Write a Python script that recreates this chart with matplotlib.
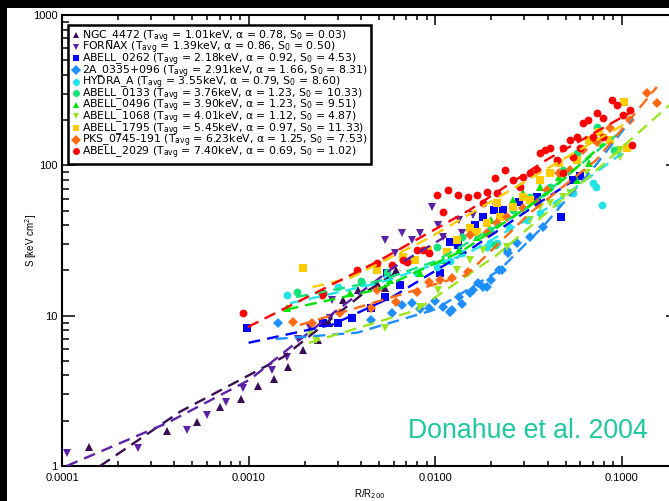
import matplotlib.pyplot as plt
from matplotlib.patches import Rectangle
from matplotlib.lines import Line2D
from matplotlib.ticker import FixedLocator, FixedFormatter, NullFormatter

plt.rcParams['font.family'] = ['Liberation Sans', 'DejaVu Sans']
plt.rcParams['mathtext.fontset'] = 'dejavusans'

# cluster summary (legend)
names = ['NGC_4472', 'FORNAX', 'ABELL_0262', '2A_0335+096', 'HYDRA_A', 'ABELL_0133',
         'ABELL_0496', 'ABELL_1068', 'ABELL_1795', 'PKS_0745-191', 'ABELL_2029']
t_avg = [1.01, 1.39, 2.18, 2.91, 3.55, 3.76, 3.90, 4.01, 5.45, 6.23, 7.40]
alpha = [0.78, 0.86, 0.92, 1.66, 0.79, 1.23, 1.23, 1.12, 0.97, 1.25, 0.69]
s_zero = [0.03, 0.50, 4.53, 8.31, 8.60, 10.33, 9.51, 4.87, 11.33, 7.53, 1.02]
markers = ['^', 'v', 's', 'D', 'o', 'o', '^', 'v', 's', 'D', 'o']
colors = ['#3b0d57', '#5b22a8', '#0000ff', '#1e8fff', '#22e3e8', '#14e27a',
          '#00e600', '#9be61e', '#ffcc00', '#ff6a14', '#ff0000']

# entropy profiles, r/r200 and S [keV cm^2]
ngc4472_r = [1.40e-4, 3.65e-4, 5.28e-4, 7.0e-4, 9.1e-4, 1.12e-3, 1.37e-3, 1.63e-3,
             1.96e-3, 2.35e-3, 2.7e-3, 3.2e-3, 3.85e-3, 4.9e-3, 5.37e-3, 6.2e-3]
ngc4472_s = [1.34, 1.71, 1.96, 2.47, 2.79, 3.41, 3.79, 4.56,
             5.91, 6.9, 9.0, 12.7, 14.8, 16.5, 15.3, 20.1]

fornax_r = [1.06e-4, 2.55e-4, 4.67e-4, 5.98e-4, 7.6e-4, 9.3e-4, 1.33e-3, 1.6e-3,
            1.84e-3, 2.13e-3, 2.73e-3, 2.8e-3, 5.37e-3, 6.62e-3, 7.5e-3, 8.3e-3,
            9.6e-3, 1.03e-2, 1.34e-2, 1.59e-2, 1.8e-2, 2.12e-2, 1.10e-2, 1.4e-2, 6.1e-3]
fornax_s = [1.22, 1.32, 1.74, 2.18, 2.66, 3.3, 4.35, 5.3,
            7.0, 8.3, 9.7, 12.7, 31.8, 35.5, 31.8, 35.5,
            52.8, 40, 43.5, 46.7, 45, 52.8, 33.4, 35.5, 26.1]

a0262_r = [9.8e-4, 2.5e-3, 3.0e-3, 3.58e-3, 4.5e-3, 5.4e-3, 5.5e-3, 6.5e-3, 1.06e-2,
           1.2e-2, 1.32e-2, 1.63e-2, 1.8e-2, 2.07e-2, 2.3e-2, 2.8e-2, 3.5e-2,
           4.75e-2, 5.45e-2, 6.0e-2]
a0262_s = [8.3, 8.94, 8.9, 9.65, 11.2, 13.3, 19.2, 16.0, 19.2,
           30.9, 29.5, 40, 45, 50.4, 50.4, 57, 61.7,
           45.2, 80.1, 85]

a2a0335_r = [1.43e-3, 4.5e-3, 5.9e-3, 6.6e-3, 7.5e-3, 8.3e-3, 9.3e-3, 1.0e-2, 1.10e-2,
             1.2e-2, 1.23e-2, 1.34e-2, 1.4e-2, 1.53e-2, 1.59e-2, 1.7e-2, 1.8e-2,
             1.89e-2, 2.0e-2, 2.2e-2, 2.27e-2, 2.41e-2, 2.44e-2, 2.75e-2, 3.21e-2, 3.76e-2]
a2a0335_s = [8.94, 9.3, 10.4, 11.8, 12.1, 11.0, 11.3, 12.5, 11.4,
             10.6, 10.9, 13.3, 12.0, 14.2, 14.8, 16.5, 15.5,
             15.5, 17.3, 20.1, 20.1, 27.4, 26.1, 30.5, 33.4, 38.9]

hydra_r = [1.6e-3, 3.0e-3, 4.05e-3, 5.5e-3, 7.96e-3, 1.02e-2, 1.2e-2, 1.4e-2, 1.89e-2,
           1.96e-2, 2.14e-2, 2.5e-2, 3.1e-2, 3.63e-2, 4.48e-2, 5.46e-2, 6.98e-2,
           7.3e-2, 7.8e-2, 9.4e-2]
hydra_s = [13.7, 15.5, 16.5, 18.1, 19.2, 21.1, 23, 26.1, 28.7,
           30.5, 30.5, 38.9, 43.5, 48.2, 56.2, 65.5, 76.4,
           71.8, 54.5, 127]

a0133_r = [1.82e-3, 4.0e-3, 5.5e-3, 7.3e-3, 1.02e-2, 1.4e-2, 1.96e-2, 2.09e-2, 2.6e-2,
           3.21e-2, 4.1e-2, 4.82e-2, 5.73e-2, 7.33e-2, 9.1e-2]
a0133_s = [14.4, 17, 19.5, 23.5, 28.7, 33.4, 37.2, 29.5, 50.4,
           61.6, 71.8, 93.2, 121, 180, 127]

a0496_r = [1.6e-3, 3.49e-3, 4.87e-3, 5.7e-3, 8.3e-3, 1.10e-2, 1.34e-2, 1.67e-2,
           2.0e-2, 2.6e-2, 2.94e-2, 3.63e-2, 4.6e-2, 5.73e-2, 6.7e-2]
a0496_s = [11.2, 14.2, 15.5, 17.3, 19.2, 23.5, 27.4, 33.4,
           43.5, 58.9, 65.5, 71.8, 83.7, 80, 104]

a1068_r = [2.13e-3, 2.3e-3, 5.37e-3, 8.3e-3, 1.03e-2, 1.31e-2, 1.53e-2, 1.8e-2, 2.41e-2,
           3.21e-2, 3.63e-2, 4.1e-2, 4.82e-2, 5.26e-2, 6.5e-2, 7.5e-2, 9.75e-2, 9.75e-2]
a1068_s = [7.67, 6.9, 8.3, 11.4, 14.8, 20.1, 23.5, 27.4, 28.7,
           43.5, 52.8, 56.2, 61.6, 65.5, 89, 141, 114, 127]

a1795_r = [1.95e-3, 4.87e-3, 6.7e-3, 7.8e-3, 9.1e-3, 1.15e-2, 1.31e-2, 1.53e-2,
           1.67e-2, 1.89e-2, 2.14e-2, 2.23e-2, 2.6e-2, 2.94e-2, 3.21e-2, 3.63e-2,
           4.1e-2, 4.6e-2, 5.73e-2, 6.7e-2, 7.5e-2, 8.6e-2, 0.103, 0.107]
a1795_s = [20.8, 20.1, 24.6, 23.5, 27.4, 26.5, 31.9, 38.3,
           36, 41.4, 56.2, 45.4, 52.8, 61.6, 58.9, 80,
           89, 104, 109, 148, 167, 148, 264, 131]

pks0745_r = [1.73e-3, 2.19e-3, 3.08e-3, 4.5e-3, 4.87e-3, 6.2e-3, 7.95e-3, 9.3e-3,
             1.06e-2, 1.23e-2, 1.49e-2, 1.53e-2, 1.89e-2, 2.14e-2, 2.41e-2, 2.94e-2,
             3.5e-2, 3.96e-2, 4.6e-2, 5.26e-2, 6.18e-2, 7.33e-2, 8.6e-2, 0.11, 0.136, 0.154]
pks0745_s = [9.1, 8.94, 10.4, 11.3, 14.8, 12.3, 14.4, 16.8,
             17.3, 17.8, 19.5, 34.4, 35.5, 41.4, 45.4, 52,
             56.2, 68.6, 89, 93.2, 127, 143, 177, 200, 303, 260]

a2029_r = [9.3e-4, 2.46e-3, 2.5e-3, 3.8e-3, 4.9e-3, 5.9e-3, 6.7e-3, 7.05e-3,
           7.96e-3, 8.6e-3, 9.3e-3, 1.02e-2, 1.1e-2, 1.17e-2, 1.32e-2, 1.49e-2,
           1.67e-2, 1.8e-2, 1.89e-2, 2.09e-2, 2.14e-2, 2.36e-2, 2.6e-2, 2.84e-2,
           2.94e-2, 3.21e-2, 3.5e-2, 3.63e-2, 3.87e-2, 4.1e-2, 4.48e-2, 4.82e-2,
           4.82e-2, 5.26e-2, 5.46e-2, 5.73e-2, 5.96e-2, 6.18e-2, 6.57e-2, 6.98e-2,
           7.33e-2, 7.9e-2, 7.9e-2, 8.83e-2, 9.4e-2, 0.101, 0.110, 0.113]
a2029_s = [10.4, 13.7, 14.2, 20.1, 22.4, 21.7, 23.5, 22.8,
           27.4, 27.4, 26.1, 63.5, 49, 68.6, 63.5, 61.6,
           63.5, 56.2, 66.5, 82.4, 65.5, 93.2, 80, 71.8,
           83.7, 89, 93.2, 121, 127, 131, 109, 131,
           89, 148, 114, 155, 131, 192, 200, 155,
           223, 207, 155, 272, 252, 216, 234, 137]

# fitted profiles S0 + S100 (r/r200)^alpha, sampled along each fit
ngc4472_fit_r = [1.6e-4, 4.3e-4, 1.53e-3, 4.1e-3, 6.5e-3]
ngc4472_fit_s = [1.0, 2.3, 5.3, 14.0, 20.0]
fornax_fit_r = [1.06e-4, 3.65e-4, 1.01e-3, 2.84e-3, 6.0e-3, 1.2e-2]
fornax_fit_s = [1.0, 1.93, 3.74, 10.4, 21.0, 35.0]
a0262_fit_r = [1.0e-3, 2.8e-3, 6.0e-3, 1.5e-2, 3.5e-2, 6.0e-2]
a0262_fit_s = [6.6, 8.7, 13.5, 27.0, 55.0, 85.0]
a2a0335_fit_r = [1.4e-3, 3.8e-3, 1.0e-2, 2.2e-2, 3.76e-2, 7.0e-2, 0.114]
a2a0335_fit_s = [7.0, 7.7, 11.0, 20.0, 38.8, 95.0, 206.0]
hydra_fit_r = [1.67e-3, 5.0e-3, 1.5e-2, 4.0e-2, 0.1]
hydra_fit_s = [12.1, 16.5, 26.0, 52.0, 120.0]
a0133_fit_r = [1.8e-3, 5.0e-3, 1.0e-2, 3.0e-2, 0.1]
a0133_fit_s = [13.3, 17.0, 23.0, 50.0, 170.0]
a0496_fit_r = [1.6e-3, 5.0e-3, 1.4e-2, 4.0e-2, 8.0e-2]
a0496_fit_s = [11.0, 15.0, 27.0, 65.0, 140.0]
a1068_fit_r = [2.1e-3, 7.96e-3, 2.14e-2, 7.33e-2, 0.18]
a1068_fit_s = [6.58, 10.9, 25.3, 93.0, 252.0]
a1795_fit_r = [2.2e-3, 3.5e-3, 9.3e-3, 4.8e-2, 0.105]
a1795_fit_s = [15.5, 17.8, 33.0, 109.0, 190.0]
pks0745_fit_r = [1.88e-3, 4.0e-3, 1.47e-2, 3.21e-2, 7.33e-2, 0.154]
pks0745_fit_s = [8.67, 11.5, 18.7, 48.0, 109.0, 332.0]
a2029_fit_r = [9.9e-4, 4.87e-3, 1.53e-2, 3.96e-2, 0.11]
a2029_fit_s = [8.4, 22.8, 50.5, 109.0, 223.0]

profiles = [(ngc4472_r, ngc4472_s), (fornax_r, fornax_s), (a0262_r, a0262_s),
            (a2a0335_r, a2a0335_s), (hydra_r, hydra_s), (a0133_r, a0133_s),
            (a0496_r, a0496_s), (a1068_r, a1068_s), (a1795_r, a1795_s),
            (pks0745_r, pks0745_s), (a2029_r, a2029_s)]
fits = [(ngc4472_fit_r, ngc4472_fit_s), (fornax_fit_r, fornax_fit_s),
        (a0262_fit_r, a0262_fit_s), (a2a0335_fit_r, a2a0335_fit_s),
        (hydra_fit_r, hydra_fit_s), (a0133_fit_r, a0133_fit_s),
        (a0496_fit_r, a0496_fit_s), (a1068_fit_r, a1068_fit_s),
        (a1795_fit_r, a1795_fit_s), (pks0745_fit_r, pks0745_fit_s),
        (a2029_fit_r, a2029_fit_s)]

fig = plt.figure(figsize=(6.69, 5.01), dpi=100, facecolor='black')
# white page behind the plot, black margin on top and left
fig.patches.append(Rectangle((7 / 669, 0), 1, 493 / 501, transform=fig.transFigure,
                             facecolor='white', edgecolor='none', zorder=-10))
ax = fig.add_axes([62 / 669, 35 / 501, 616 / 669, 451 / 501])
ax.set_xscale('log')
ax.set_yscale('log')
ax.set_xlim(1e-4, 0.2)
ax.set_ylim(1, 1000)

for (r, s), m, c in zip(profiles, markers, colors):
    ax.plot(r, s, linestyle='none', marker=m, color=c, markersize=5.6,
            markeredgewidth=0, zorder=2)
for (r, s), c in zip(fits, colors):
    ax.plot(r, s, linestyle=(0, (5, 3)), color=c, linewidth=1.7, zorder=3)

# axes styling
ax.xaxis.set_major_locator(FixedLocator([1e-4, 1e-3, 1e-2, 1e-1]))
ax.xaxis.set_major_formatter(FixedFormatter(['0.0001', '0.0010', '0.0100', '0.1000']))
ax.yaxis.set_major_locator(FixedLocator([1, 10, 100, 1000]))
ax.yaxis.set_major_formatter(FixedFormatter(['1', '10', '100', '1000']))
ax.xaxis.set_minor_formatter(NullFormatter())
ax.yaxis.set_minor_formatter(NullFormatter())
ax.tick_params(which='both', direction='in', top=True, right=True, width=1.1,
               labelsize=8)
ax.tick_params(axis='x', which='major', length=7, pad=5)
ax.tick_params(axis='x', which='minor', length=3.5)
ax.tick_params(axis='y', which='major', length=9, pad=3)
ax.tick_params(axis='y', which='minor', length=5)
for sp in ax.spines.values():
    sp.set_linewidth(1.5)

ax.set_xlabel('R/R$_{200}$', fontsize=7, labelpad=3)
ax.set_ylabel('S [keV cm$^2$]', fontsize=7)
ax.yaxis.set_label_coords(-0.038, 0.5)

handles = [Line2D([], [], linestyle='none', marker=m, color=c, markersize=5,
                  markeredgewidth=0) for m, c in zip(markers, colors)]
labels = [f'{n} (T$_{{\\rm avg}}$ = {t:.2f}keV, \u03b1 = {a:.2f}, S$_0$ = {s0:.2f})'
          for n, t, a, s0 in zip(names, t_avg, alpha, s_zero)]
leg = ax.legend(handles, labels, loc='upper left',
                bbox_to_anchor=(68 / 669, 1 - 25 / 501), bbox_transform=fig.transFigure,
                prop={'family': 'DejaVu Sans', 'size': 7.8}, frameon=True,
                fancybox=False, framealpha=1, edgecolor='black', borderpad=0.3,
                handletextpad=0.2, handlelength=0.8, labelspacing=-0.44,
                borderaxespad=0)
leg.get_frame().set_linewidth(1.8)

fig.text(408 / 669, 1 - 438 / 501, 'Donahue et al. 2004', color='#1ec8a0',
         fontsize=19.2, va='baseline')

fig.savefig('out.png', dpi=100, facecolor=fig.get_facecolor())
